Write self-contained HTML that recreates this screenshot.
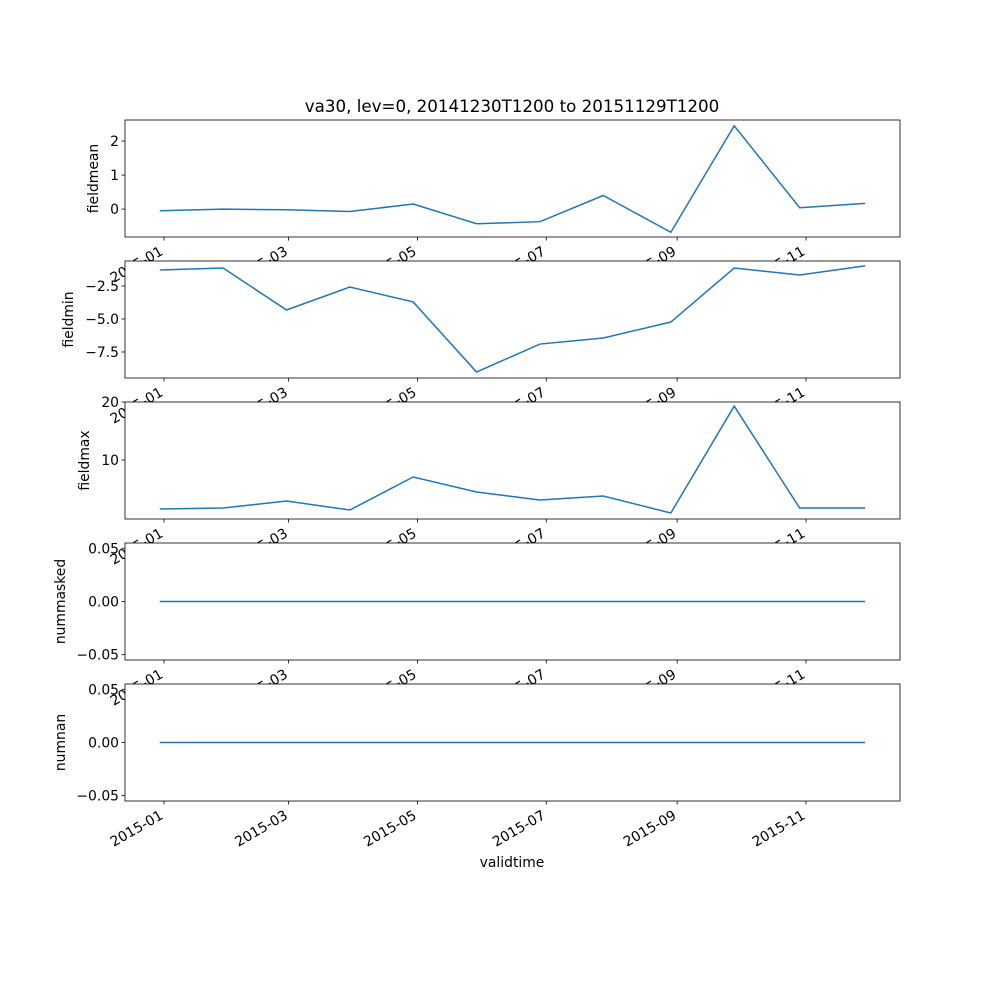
<!DOCTYPE html>
<html><head><meta charset="utf-8"><style>body{margin:0;background:#fff}svg{display:block}text{font-family:"DejaVu Sans","Liberation Sans",sans-serif;fill:#000}</style></head>
<body>
<svg id="c" width="1000" height="1000"></svg>
<script>
const dates=["2014-12-30","2015-01-29","2015-02-28","2015-03-30","2015-04-29","2015-05-29","2015-06-28","2015-07-28","2015-08-29","2015-09-28","2015-10-29","2015-11-29"];
const fieldmean=[-0.05,0.0,-0.02,-0.07,0.15,-0.43,-0.37,0.4,-0.68,2.45,0.04,0.17];
const fieldmin=[-1.29,-1.14,-4.32,-2.58,-3.71,-9.02,-6.9,-6.44,-5.23,-1.14,-1.67,-0.98];
const fieldmax=[1.55,1.72,2.93,1.38,7.07,4.48,3.1,3.79,0.86,19.3,1.72,1.72];
const nummasked=[0,0,0,0,0,0,0,0,0,0,0,0];
const numnan=[0,0,0,0,0,0,0,0,0,0,0,0];
const xTickLabels=["2015-01","2015-03","2015-05","2015-07","2015-09","2015-11"];
const panels=[
 {name:"fieldmean",vals:fieldmean,top:120,lo:-0.82,hi:2.62,ticks:[0,1,2],fmt:v=>String(v),lx:98},
 {name:"fieldmin",vals:fieldmin,top:261,lo:-9.47,hi:-0.61,ticks:[-7.5,-5,-2.5],fmt:v=>v.toFixed(1).replace("-","−"),lx:73},
 {name:"fieldmax",vals:fieldmax,top:402,lo:-0.17,hi:20,ticks:[10,20],fmt:v=>String(v),lx:89},
 {name:"nummasked",vals:nummasked,top:543,lo:-0.055,hi:0.055,ticks:[-0.05,0,0.05],fmt:v=>v.toFixed(2).replace("-","−"),lx:65},
 {name:"numnan",vals:numnan,top:684,lo:-0.055,hi:0.055,ticks:[-0.05,0,0.05],fmt:v=>v.toFixed(2).replace("-","−"),lx:65}
];
const NS="http://www.w3.org/2000/svg",svg=document.getElementById("c");
const L=125,R=900,H=117;
const day=s=>(Date.parse(s)-Date.parse("2015-01-01"))/864e5;
const xs=d=>164+day(d)*642/304;
function el(t,a,p){const e=document.createElementNS(NS,t);for(const k in a)e.setAttribute(k,a[k]);(p||svg).appendChild(e);return e;}
const title=el("text",{x:512,y:112,"text-anchor":"middle","font-size":16.7});
title.textContent="va30, lev=0, 20141230T1200 to 20151129T1200";


panels.forEach((p,i)=>{
 const g=el("g",{});
 
 
 const ys=v=>p.top+H-(v-p.lo)/(p.hi-p.lo)*H;
 el("rect",{x:L,y:p.top,width:R-L,height:H,fill:"#fff"},g);
 let d="";p.vals.forEach((v,j)=>{d+=(j?"L":"M")+xs(dates[j]).toFixed(2)+","+ys(v).toFixed(2);});
 const line=el("path",{d:d,fill:"none",stroke:"#1f77b4","stroke-width":1.5},g);
 
 
 const fr=el("rect",{x:L,y:p.top,width:R-L,height:H,fill:"none",stroke:"#000","stroke-width":0.8},g);
 
 
 p.ticks.forEach(t=>{const y=ys(t);el("line",{x1:L-3.5,x2:L,y1:y,y2:y,stroke:"#000","stroke-width":0.8},g);
  const tx=el("text",{x:L-6,y:y+5,"text-anchor":"end","font-size":13.9},g);tx.textContent=p.fmt(t);
  
  });
 const yl=el("text",{transform:`translate(${p.lx},${p.top+H/2}) rotate(-90)`,"text-anchor":"middle","font-size":13.9},g);
 yl.textContent=p.name;
 
 
 const by=p.top+H;
 xTickLabels.forEach(lb=>{const x=xs(lb+"-01");el("line",{x1:x,x2:x,y1:by,y2:by+3.5,stroke:"#000","stroke-width":0.8},g);
  const tx=el("text",{transform:`translate(${x},${by+17}) rotate(-30)`,"text-anchor":"end","font-size":13.9},g);tx.textContent=lb;
  
  });
});
const xl=el("text",{x:512,y:867,"text-anchor":"middle","font-size":13.9});
xl.textContent="validtime";


</script>
</body></html>
